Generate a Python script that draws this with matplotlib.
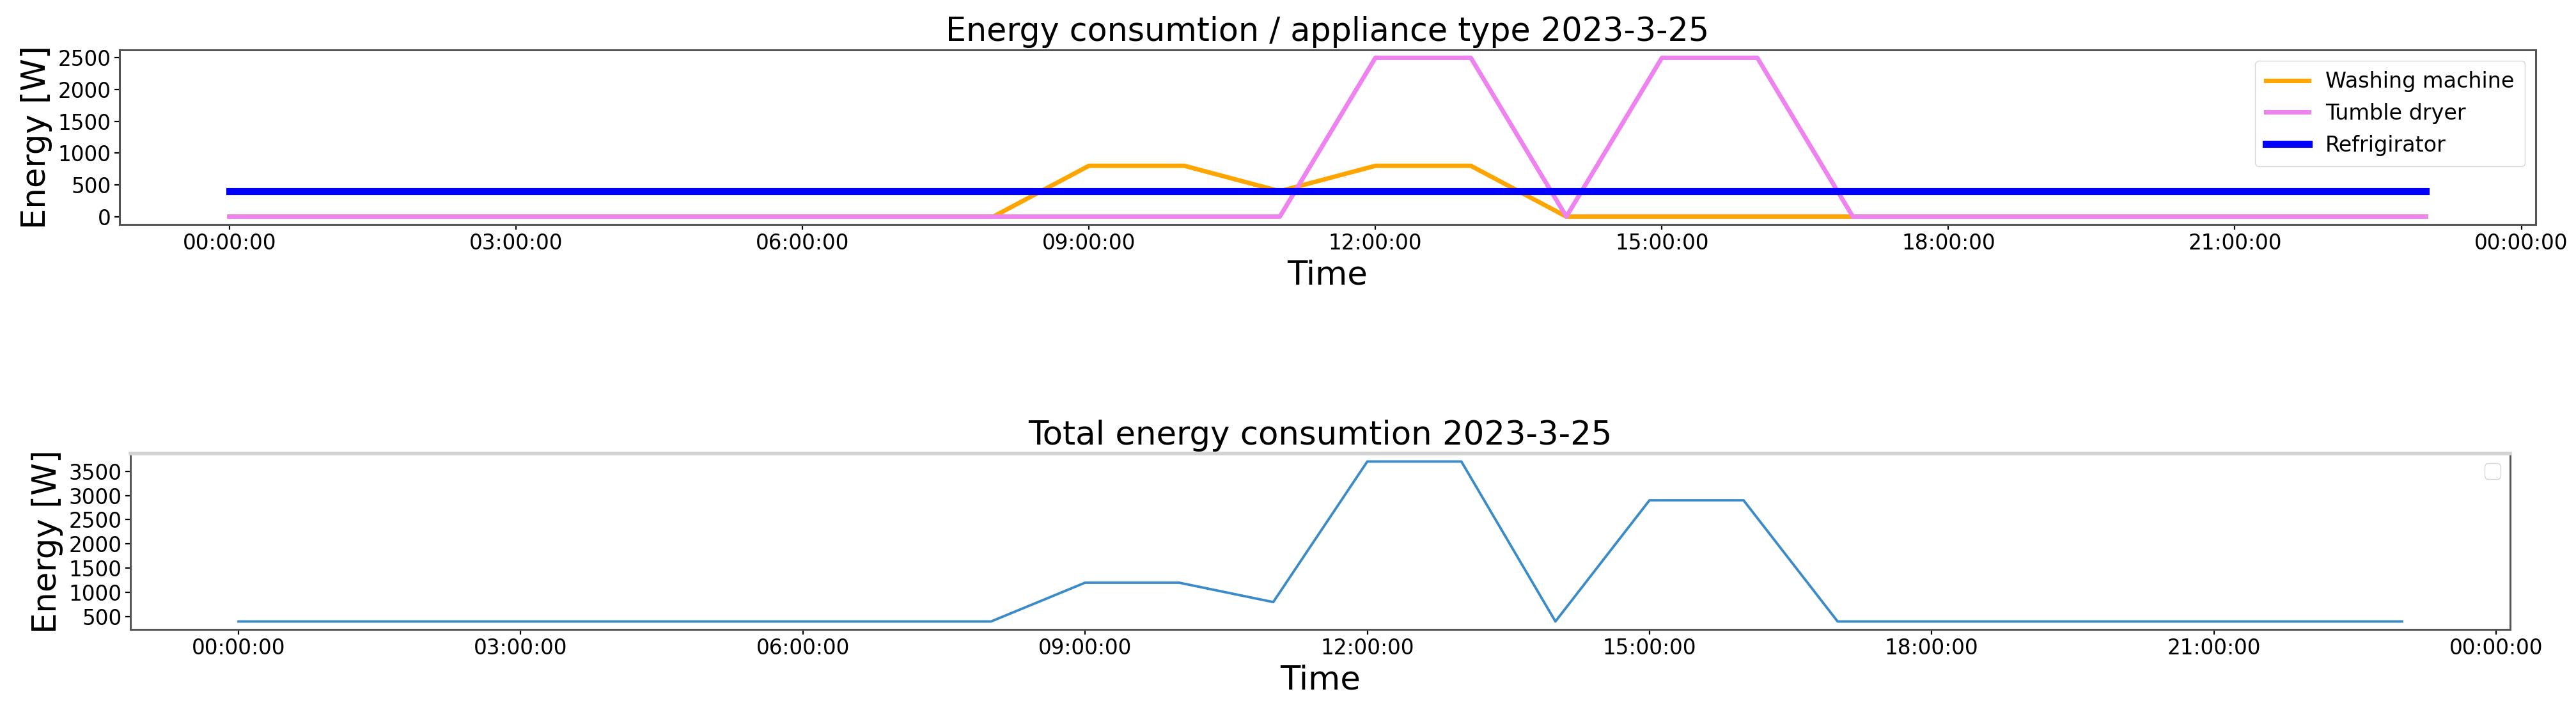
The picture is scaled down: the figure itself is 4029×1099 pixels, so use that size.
import numpy as np
import pandas as pd
import matplotlib
matplotlib.use("Agg")
import matplotlib.pyplot as plt
import matplotlib.dates as mdates
from matplotlib.ticker import MultipleLocator

# hourly readings for 2023-03-25
hours = pd.date_range("2023-03-25 00:00:00", periods=24, freq="h")

washing_machine = [0, 0, 0, 0, 0, 0, 0, 0, 0, 800, 800, 400,
                   800, 800, 0, 0, 0, 0, 0, 0, 0, 0, 0, 0]
tumble_dryer = [0, 0, 0, 0, 0, 0, 0, 0, 0, 0, 0, 0,
                2500, 2500, 0, 2500, 2500, 0, 0, 0, 0, 0, 0, 0]
refrigirator = [400] * 24

total = [400, 400, 400, 400, 400, 400, 400, 400, 400, 1200, 1200, 800,
         3700, 3700, 400, 2900, 2900, 400, 400, 400, 400, 400, 400, 400]

title_top = "Energy consumtion / appliance type 2023-3-25"
title_bottom = "Total energy consumtion 2023-3-25"

plt.rcParams['font.family'] = ['DejaVu Sans']

fig = plt.figure(figsize=(40.3, 10.99), dpi=100)
ax1 = fig.add_axes([0.0464, 0.6806, 0.9377, 0.2484])
ax2 = fig.add_axes([0.0506, 0.1046, 0.9236, 0.2503])


def style_axis(ax):
    ax.xaxis.set_major_locator(mdates.HourLocator(byhour=range(0, 24, 3)))
    ax.xaxis.set_major_formatter(mdates.DateFormatter("%H:%M:%S"))
    ax.yaxis.set_major_locator(MultipleLocator(500))
    ax.tick_params(axis='both', labelsize=23.5, length=5.5, width=1.6, pad=4)
    for sp in ax.spines.values():
        sp.set_color('#555555')
        sp.set_linewidth(2.2)
    ax.set_xlabel("Time", fontsize=37, labelpad=6)
    ax.set_ylabel("Energy [W]", fontsize=37, labelpad=6)


# per appliance
ax1.plot(hours, washing_machine, color='orange', lw=5, label="Washing machine")
ax1.plot(hours, tumble_dryer, color='violet', lw=5, label="Tumble dryer")
ax1.plot(hours, refrigirator, color='blue', lw=8, label="Refrigirator")
ax1.set_title(title_top, fontsize=36.5, pad=10)
style_axis(ax1)
ax1.legend(loc='upper right', fontsize=24, borderpad=0.5, handlelength=2)

# total
ax2.plot(hours, total, color='#3a8bc8', lw=2.8)
ax2.set_title(title_bottom, fontsize=37, pad=10)
style_axis(ax2)
ax2.spines['top'].set_color('#d3d3d3')
ax2.spines['top'].set_linewidth(4)
ax2.legend(handles=[], loc='upper right', fontsize=22)

fig.savefig("out.png", dpi=100)
